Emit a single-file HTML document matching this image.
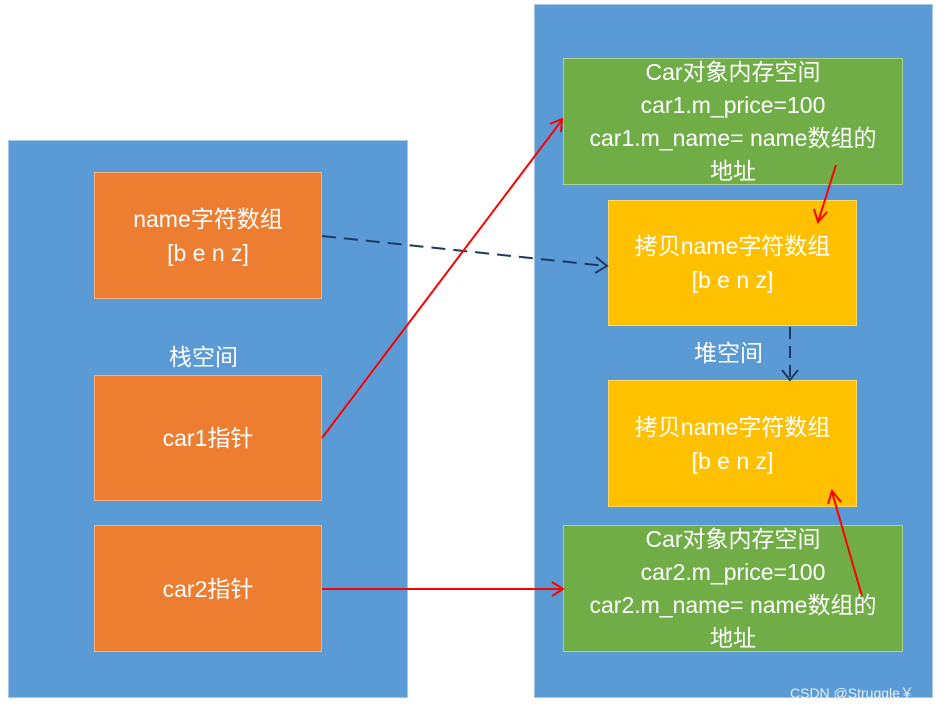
<!DOCTYPE html>
<html><head><meta charset="utf-8"><style>
body{margin:0;width:943px;height:712px;background:#fff;position:relative;overflow:hidden;font-family:"Liberation Sans","Noto Sans CJK SC",sans-serif;}
.b{position:absolute;box-sizing:border-box;color:#fff;display:flex;flex-direction:column;align-items:center;justify-content:center;text-align:center;font-size:23px;line-height:34px;}
.big{background:#5b9bd5;border:1px solid #a9c6e8;}
.o{background:#ed7d31;border:1px solid #f4b183;}
.g{background:#70ad47;border:1px solid #a9d18e;}
.y{background:#ffc000;border:1px solid #ffd966;}
.t{position:absolute;color:#fff;font-size:23px;}
</style></head><body>
<div class="b big" style="left:8px;top:140px;width:400px;height:558px"></div>
<div class="b big" style="left:534px;top:4px;width:399px;height:694px"></div>
<div class="b o" style="left:94px;top:172px;width:228px;height:127px"><div>name字符数组</div><div>[b e n z]</div></div>
<div class="t" style="left:169px;top:338px">栈空间</div>
<div class="b o" style="left:94px;top:375px;width:228px;height:126px">car1指针</div>
<div class="b o" style="left:94px;top:525px;width:228px;height:127px">car2指针</div>
<div class="b g" style="left:563px;top:58px;width:340px;height:127px;line-height:33px"><div>Car对象内存空间</div><div>car1.m_price=100</div><div>car1.m_name= name数组的</div><div>地址</div></div>
<div class="b y" style="left:608px;top:200px;width:249px;height:126px"><div>拷贝name字符数组</div><div>[b e n z]</div></div>
<div class="t" style="left:694px;top:334px">堆空间</div>
<div class="b y" style="left:608px;top:380px;width:249px;height:127px"><div>拷贝name字符数组</div><div>[b e n z]</div></div>
<div class="b g" style="left:563px;top:525px;width:340px;height:127px;line-height:33px"><div>Car对象内存空间</div><div>car2.m_price=100</div><div>car2.m_name= name数组的</div><div>地址</div></div>
<div style="position:absolute;left:790px;top:683px;font-size:14px;color:#e8eef6">CSDN @Struggle￥</div>
<svg width="943" height="712" style="position:absolute;left:0;top:0">
<g fill="none" stroke-width="2">
<line x1="322" y1="236" x2="606" y2="266" stroke="#1f3864" stroke-dasharray="14,8"/>
<polyline points="596,257 607,266 595,273" stroke="#1f3864"/>
<line x1="790" y1="327" x2="790" y2="379" stroke="#1f3864" stroke-dasharray="12,7"/>
<polyline points="782,370 790,380 798,370" stroke="#1f3864"/>
<line x1="322" y1="438" x2="562" y2="120" stroke="red"/>
<polyline points="550,124 562,119 561,132" stroke="red"/>
<line x1="322" y1="589" x2="562" y2="589" stroke="red"/>
<polyline points="552,582 563,589 552,596" stroke="red"/>
<line x1="836" y1="165" x2="818" y2="222" stroke="red"/>
<polyline points="814,209 818,222 827,212" stroke="red"/>
<line x1="862" y1="596" x2="832" y2="492" stroke="red"/>
<polyline points="828,504 832,491 841,502" stroke="red"/>
</g></svg>
</body></html>
